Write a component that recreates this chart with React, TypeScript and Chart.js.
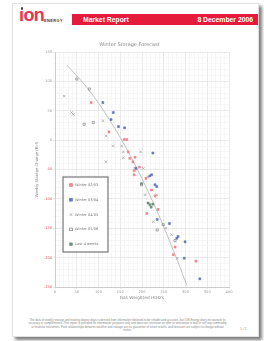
import React, { useEffect, useRef } from 'react';
import { Chart, registerables } from 'chart.js';

Chart.register(...registerables);

const RED = '#e41b3a';

const chartTitle = 'Winter Storage Forecast';
const xAxisTitle = "Gas Weighted HDD's";
const yAxisTitle = 'Weekly Storage Change (Bcf)';

const xMin = 0;
const xMax = 400;
const xMajor = 50;
const xMinor = 10;
const yMin = -250;
const yMax = 150;
const yMajor = 50;
const yMinor = 10;

const seriesLabels = ["Winter 02/03", "Winter 03/04", "Winter 04/05", "Winter 05/06", "Last 4 weeks"];

const winter0203: [number, number][] = [
  [83, 64], [124, 14], [159, 1], [165, 1], [168, -20], [172, -31], [179, -37], [184, -29],
  [182, -52], [182, -59], [194, -46], [209, -65], [222, -85], [230, -95], [237, -118],
  [211, -125], [276, -182], [272, -195], [324, -206],
];
const winter0304: [number, number][] = [
  [110, 64], [134, 47], [129, 35], [146, 23], [160, 21], [186, -48], [225, -22], [218, -61],
  [222, -59], [230, -76], [234, -79], [235, -135], [263, -142], [283, -164], [280, -167],
  [299, -173], [297, -201], [333, -236],
];
const winter0405: [number, number][] = [
  [21, 75], [38, 47], [42, 44], [110, 33], [117, 7], [134, -10], [153, -10], [157, -20],
  [117, -37], [197, -20], [157, -30], [184, -48], [203, -48], [214, -63], [207, -93],
  [234, -93], [226, -139], [255, -150], [268, -161], [281, -201],
];
const winter0506: [number, number][] = [
  [50, 104], [79, 87], [67, 27], [88, 30], [199, -76], [249, -144], [235, -153], [276, -171],
];
const last4Weeks: [number, number][] = [
  [199, -74], [214, -107], [218, -110], [225, -109], [221, -114],
];

const trendX = [27, 75, 125, 175, 225, 275, 303];
const trendY = [128, 88, 35, -29, -105, -193, -247];

const footerText =
  'The data of weekly storage and heating degree days is derived from information believed to be reliable and accurate, but ION Energy does not warrant its accuracy or completeness. This report is provided for information purposes only and does not constitute an offer or solicitation to buy or sell any commodity or financial instrument. Past relationships between weather and storage are no guarantee of future results, and forecasts are subject to change without notice.';

const toPoints = (arr: [number, number][]) => arr.map(([x, y]) => ({ x, y }));

function drawMarker(ctx: CanvasRenderingContext2D, style: string, x: number, y: number, fill: string, stroke: string) {
  ctx.save();
  ctx.lineWidth = 0.7;
  if (style === 'crossRot') {
    ctx.strokeStyle = stroke;
    ctx.beginPath();
    ctx.moveTo(x - 1.4, y - 1.4);
    ctx.lineTo(x + 1.4, y + 1.4);
    ctx.moveTo(x + 1.4, y - 1.4);
    ctx.lineTo(x - 1.4, y + 1.4);
    ctx.stroke();
  } else {
    if (fill !== 'transparent') {
      ctx.fillStyle = fill;
      ctx.fillRect(x - 1.3, y - 1.3, 2.6, 2.6);
    }
    ctx.strokeStyle = stroke;
    ctx.strokeRect(x - 1.3, y - 1.3, 2.6, 2.6);
  }
  ctx.restore();
}

const boxLegend = {
  id: 'boxLegend',
  afterDraw(chart: any) {
    const { ctx, chartArea } = chart;
    const x0 = chartArea.left + 8;
    const y0 = chartArea.top + 125;
    const w = 45;
    const h = 75;
    ctx.save();
    ctx.fillStyle = '#ffffff';
    ctx.fillRect(x0, y0, w, h);
    ctx.strokeStyle = '#808080';
    ctx.lineWidth = 1.3;
    ctx.strokeRect(x0, y0, w, h);
    ctx.font = '3.6px "DejaVu Sans", sans-serif';
    ctx.textBaseline = 'middle';
    const items = chart.data.datasets
      .filter((d: any) => d.boxIndex !== undefined)
      .sort((a: any, b: any) => a.boxIndex - b.boxIndex);
    items.forEach((ds: any, i: number) => {
      const cy = y0 + 8 + i * 14.8;
      drawMarker(ctx, ds.pointStyle, x0 + 8, cy, ds.backgroundColor, ds.borderColor);
      ctx.fillStyle = '#777';
      ctx.fillText(ds.label, x0 + 12, cy);
    });
    ctx.restore();
  },
};

function StorageChart() {
  const ref = useRef<HTMLCanvasElement>(null);
  useEffect(() => {
    if (!ref.current) return;
    const chart = new Chart(ref.current, {
      type: 'scatter',
      data: {
        datasets: [
          { label: seriesLabels[4], boxIndex: 4, data: toPoints(last4Weeks), pointStyle: 'rect', pointRadius: 1.5, backgroundColor: '#5a9a70', borderColor: '#888', borderWidth: 0.5 } as any,
          { label: seriesLabels[0], boxIndex: 0, data: toPoints(winter0203), pointStyle: 'rect', pointRadius: 1.4, backgroundColor: '#f5909a', borderColor: '#ee6a78', borderWidth: 0.5 } as any,
          { label: seriesLabels[1], boxIndex: 1, data: toPoints(winter0304), pointStyle: 'rect', pointRadius: 1.4, backgroundColor: '#6a7cc0', borderColor: '#5566b0', borderWidth: 0.5 } as any,
          { label: seriesLabels[2], boxIndex: 2, data: toPoints(winter0405), pointStyle: 'crossRot', pointRadius: 1.8, backgroundColor: '#a0a0a0', borderColor: '#a0a0a0', borderWidth: 0.7 } as any,
          { label: seriesLabels[3], boxIndex: 3, data: toPoints(winter0506), pointStyle: 'rect', pointRadius: 1.5, backgroundColor: 'transparent', borderColor: '#777', borderWidth: 0.6 } as any,
          {
            label: 'Trend',
            data: trendX.map((x, i) => ({ x, y: trendY[i] })),
            showLine: true,
            borderColor: '#a8a8a8',
            borderWidth: 0.7,
            pointRadius: 0,
            tension: 0.4,
            cubicInterpolationMode: 'monotone',
          } as any,
        ],
      },
      options: {
        animation: false,
        responsive: false,
        devicePixelRatio: 1,
        layout: { padding: { top: 0, right: 7, left: 0, bottom: 0 } },
        plugins: {
          legend: { display: false },
          tooltip: { enabled: false },
          title: {
            display: true,
            text: chartTitle,
            color: '#888',
            font: { size: 5, family: 'DejaVu Sans', weight: 'normal' },
            padding: { top: 4, bottom: 4 },
          },
        },
        scales: {
          x: {
            type: 'linear',
            min: xMin,
            max: xMax,
            afterFit: (s: any) => { s.height = 17; },
            ticks: {
              stepSize: xMinor,
              autoSkip: false,
              maxRotation: 0,
              padding: 1,
              color: '#999',
              font: { size: 3.6, family: 'DejaVu Sans' },
              callback: (v: any) => (Number(v) % xMajor === 0 ? String(v) : ''),
            },
            grid: {
              color: (c: any) => (c.tick && c.tick.value % xMajor === 0 ? '#dcdcdc' : '#f1f1f1'),
              tickLength: 2,
              lineWidth: 0.6,
            },
            border: { color: '#cccccc' },
            title: {
              display: true,
              text: xAxisTitle,
              color: '#888',
              font: { size: 4.3, family: 'DejaVu Sans' },
              padding: { top: 0, bottom: 4 },
            },
          },
          y: {
            type: 'linear',
            min: yMin,
            max: yMax,
            afterFit: (s: any) => { s.width = 25; },
            ticks: {
              stepSize: yMinor,
              autoSkip: false,
              padding: 1,
              color: (c: any) => (c.tick && c.tick.value < 0 ? '#ee4a60' : '#999'),
              font: { size: 3.6, family: 'DejaVu Sans' },
              callback: (v: any) => (Number(v) % yMajor === 0 ? String(v) : ''),
            },
            grid: {
              color: (c: any) => (c.tick && c.tick.value % yMajor === 0 ? '#dcdcdc' : '#f1f1f1'),
              tickLength: 2,
              lineWidth: 0.6,
            },
            border: { color: '#cccccc' },
            title: {
              display: true,
              text: yAxisTitle,
              color: '#888',
              font: { size: 3.8, family: 'DejaVu Sans' },
              padding: { top: 5, bottom: 0 },
            },
          },
        },
      } as any,
      plugins: [boxLegend],
    });
    return () => chart.destroy();
  }, []);
  return <canvas ref={ref} width={206} height={266} style={{ position: 'absolute', left: 30, top: 38, width: 206, height: 266 }} />;
}

export default function App() {
  return (
    <div style={{ position: 'absolute', left: 0, top: 0, width: 264, height: 341, background: '#fff', overflow: 'hidden', fontFamily: '"Liberation Sans", Arial, sans-serif' }}>
      <div style={{ position: 'absolute', left: 12, top: 3, width: 245, height: 332, background: '#fff', border: '1px solid #e2e2e2', boxShadow: '3px 3px 3px rgba(0,0,0,0.5)' }} />
      <div style={{ position: 'absolute', left: 19, top: 5, fontSize: 18, fontWeight: 'bold', color: '#e8374f', letterSpacing: -0.6, lineHeight: '20px' }}>ıon</div>
      <div style={{ position: 'absolute', left: 20.5, top: 7, width: 2.5, height: 2.5, borderRadius: 2, background: '#444' }} />
      <div style={{ position: 'absolute', left: 44, top: 18.5, fontSize: 3.8, fontWeight: 'bold', color: '#333', letterSpacing: 0.5 }}>ENERGY</div>
      <div style={{ position: 'absolute', left: 72, top: 14, width: 186, height: 11, background: RED }}>
        <div style={{ position: 'absolute', left: 11, top: 0, lineHeight: '11px', fontSize: 6.8, fontWeight: 'bold', color: '#fff' }}>Market Report</div>
        <div style={{ position: 'absolute', right: 5, top: 0, lineHeight: '11px', fontSize: 6.8, fontWeight: 'bold', color: '#fff' }}>8 December 2006</div>
      </div>
      <StorageChart />
      <div style={{ position: 'absolute', left: 28, top: 319, width: 199, fontSize: 2.9, lineHeight: '3.4px', color: '#888', textAlign: 'center' }}>{footerText}</div>
      <div style={{ position: 'absolute', left: 240, top: 327, fontSize: 3.5, color: '#999' }}>1 / 2</div>
    </div>
  );
}
